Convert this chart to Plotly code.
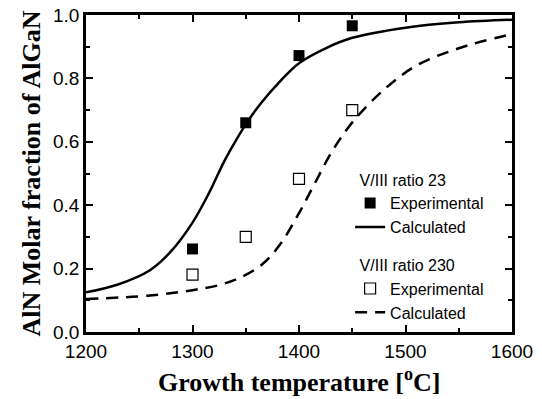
import plotly.graph_objects as go

# Experimental data
temp_exp = [1300, 1350, 1400, 1450]
exp_23 = [0.262, 0.66, 0.872, 0.966]
exp_230 = [0.181, 0.30, 0.483, 0.70]

# Calculated curves
temp_calc_23 = [1200, 1230, 1260, 1280, 1300, 1315, 1330, 1340, 1350, 1365, 1382, 1400, 1425, 1450, 1500, 1550, 1600]
calc_23 = [0.125, 0.15, 0.195, 0.255, 0.345, 0.435, 0.54, 0.60, 0.655, 0.725, 0.79, 0.848, 0.895, 0.928, 0.96, 0.977, 0.985]
temp_calc_230 = [1200, 1260, 1300, 1325, 1345, 1365, 1382, 1400, 1415, 1432, 1451, 1480, 1510, 1550, 1600]
calc_230 = [0.104, 0.115, 0.132, 0.148, 0.172, 0.212, 0.275, 0.375, 0.47, 0.575, 0.665, 0.765, 0.84, 0.895, 0.94]

x_ticks = [1200, 1300, 1400, 1500, 1600]
y_ticks = [0.0, 0.2, 0.4, 0.6, 0.8, 1.0]

fig = go.Figure()
fig.add_trace(go.Scatter(
    x=temp_exp, y=exp_23, mode="markers", name="Experimental",
    legendgroup="g23", legendgrouptitle=dict(text="\u00a0V/III ratio 23"),
    marker=dict(symbol="square", size=11, color="black"),
))
fig.add_trace(go.Scatter(
    x=temp_calc_23, y=calc_23, mode="lines", name="Calculated",
    legendgroup="g23", line=dict(color="black", width=2.5, shape="spline"),
))
fig.add_trace(go.Scatter(
    x=temp_exp, y=exp_230, mode="markers", name="Experimental",
    legendgroup="g230", legendgrouptitle=dict(text="\u00a0V/III ratio 230"),
    marker=dict(symbol="square-open", size=11, color="black", line=dict(width=1.2)),
))
fig.add_trace(go.Scatter(
    x=temp_calc_230, y=calc_230, mode="lines", name="Calculated",
    legendgroup="g230", line=dict(color="black", width=2.5, dash="12px,8px", shape="spline"),
))

axis_common = dict(
    showline=True, linecolor="black", linewidth=2.5, mirror="allticks",
    ticks="inside", ticklen=7, tickwidth=2, tickcolor="black",
    showgrid=False, zeroline=False, automargin=False,
    tickfont=dict(family="Liberation Sans, Arial", size=19, color="black"),
)

fig.update_layout(
    width=542, height=399,
    margin=dict(l=86, r=30, t=15, b=67),
    paper_bgcolor="white", plot_bgcolor="white",
    xaxis=dict(
        range=[1200, 1600], tickvals=x_ticks, ticktext=[str(v) for v in x_ticks],
        minor=dict(dtick=50, ticks="inside", ticklen=4, tickwidth=2, tickcolor="black"),
        **axis_common,
    ),
    yaxis=dict(
        range=[0, 1.0], tickvals=y_ticks, ticktext=[f"{v:.1f}" for v in y_ticks],
        minor=dict(dtick=0.1, ticks="inside", ticklen=4, tickwidth=2, tickcolor="black"),
        title=dict(text="<b>AlN Molar fraction of AlGaN</b>", standoff=5,
                   font=dict(family="Liberation Serif, Times New Roman", size=26, color="black")),
        **axis_common,
    ),
    legend=dict(
        x=0.62, y=0.535, xanchor="left", yanchor="top",
        bgcolor="rgba(0,0,0,0)", traceorder="grouped", tracegroupgap=14,
        font=dict(family="Liberation Sans, Arial", size=16, color="black"),
        grouptitlefont=dict(family="Liberation Sans, Arial", size=16, color="black"),
    ),
    font=dict(family="Liberation Sans, Arial", color="black"),
    annotations=[dict(
        text="<b>Growth temperature [<sup>o</sup>C]</b>",
        x=0.5, y=0, xref="paper", yref="paper", xanchor="center", yanchor="top",
        yshift=-30, showarrow=False,
        font=dict(family="Liberation Serif, Times New Roman", size=26, color="black"),
    )],
)

fig.write_html("out.html", post_script="document.body.style.margin='0';",
               config={"displayModeBar": False})
